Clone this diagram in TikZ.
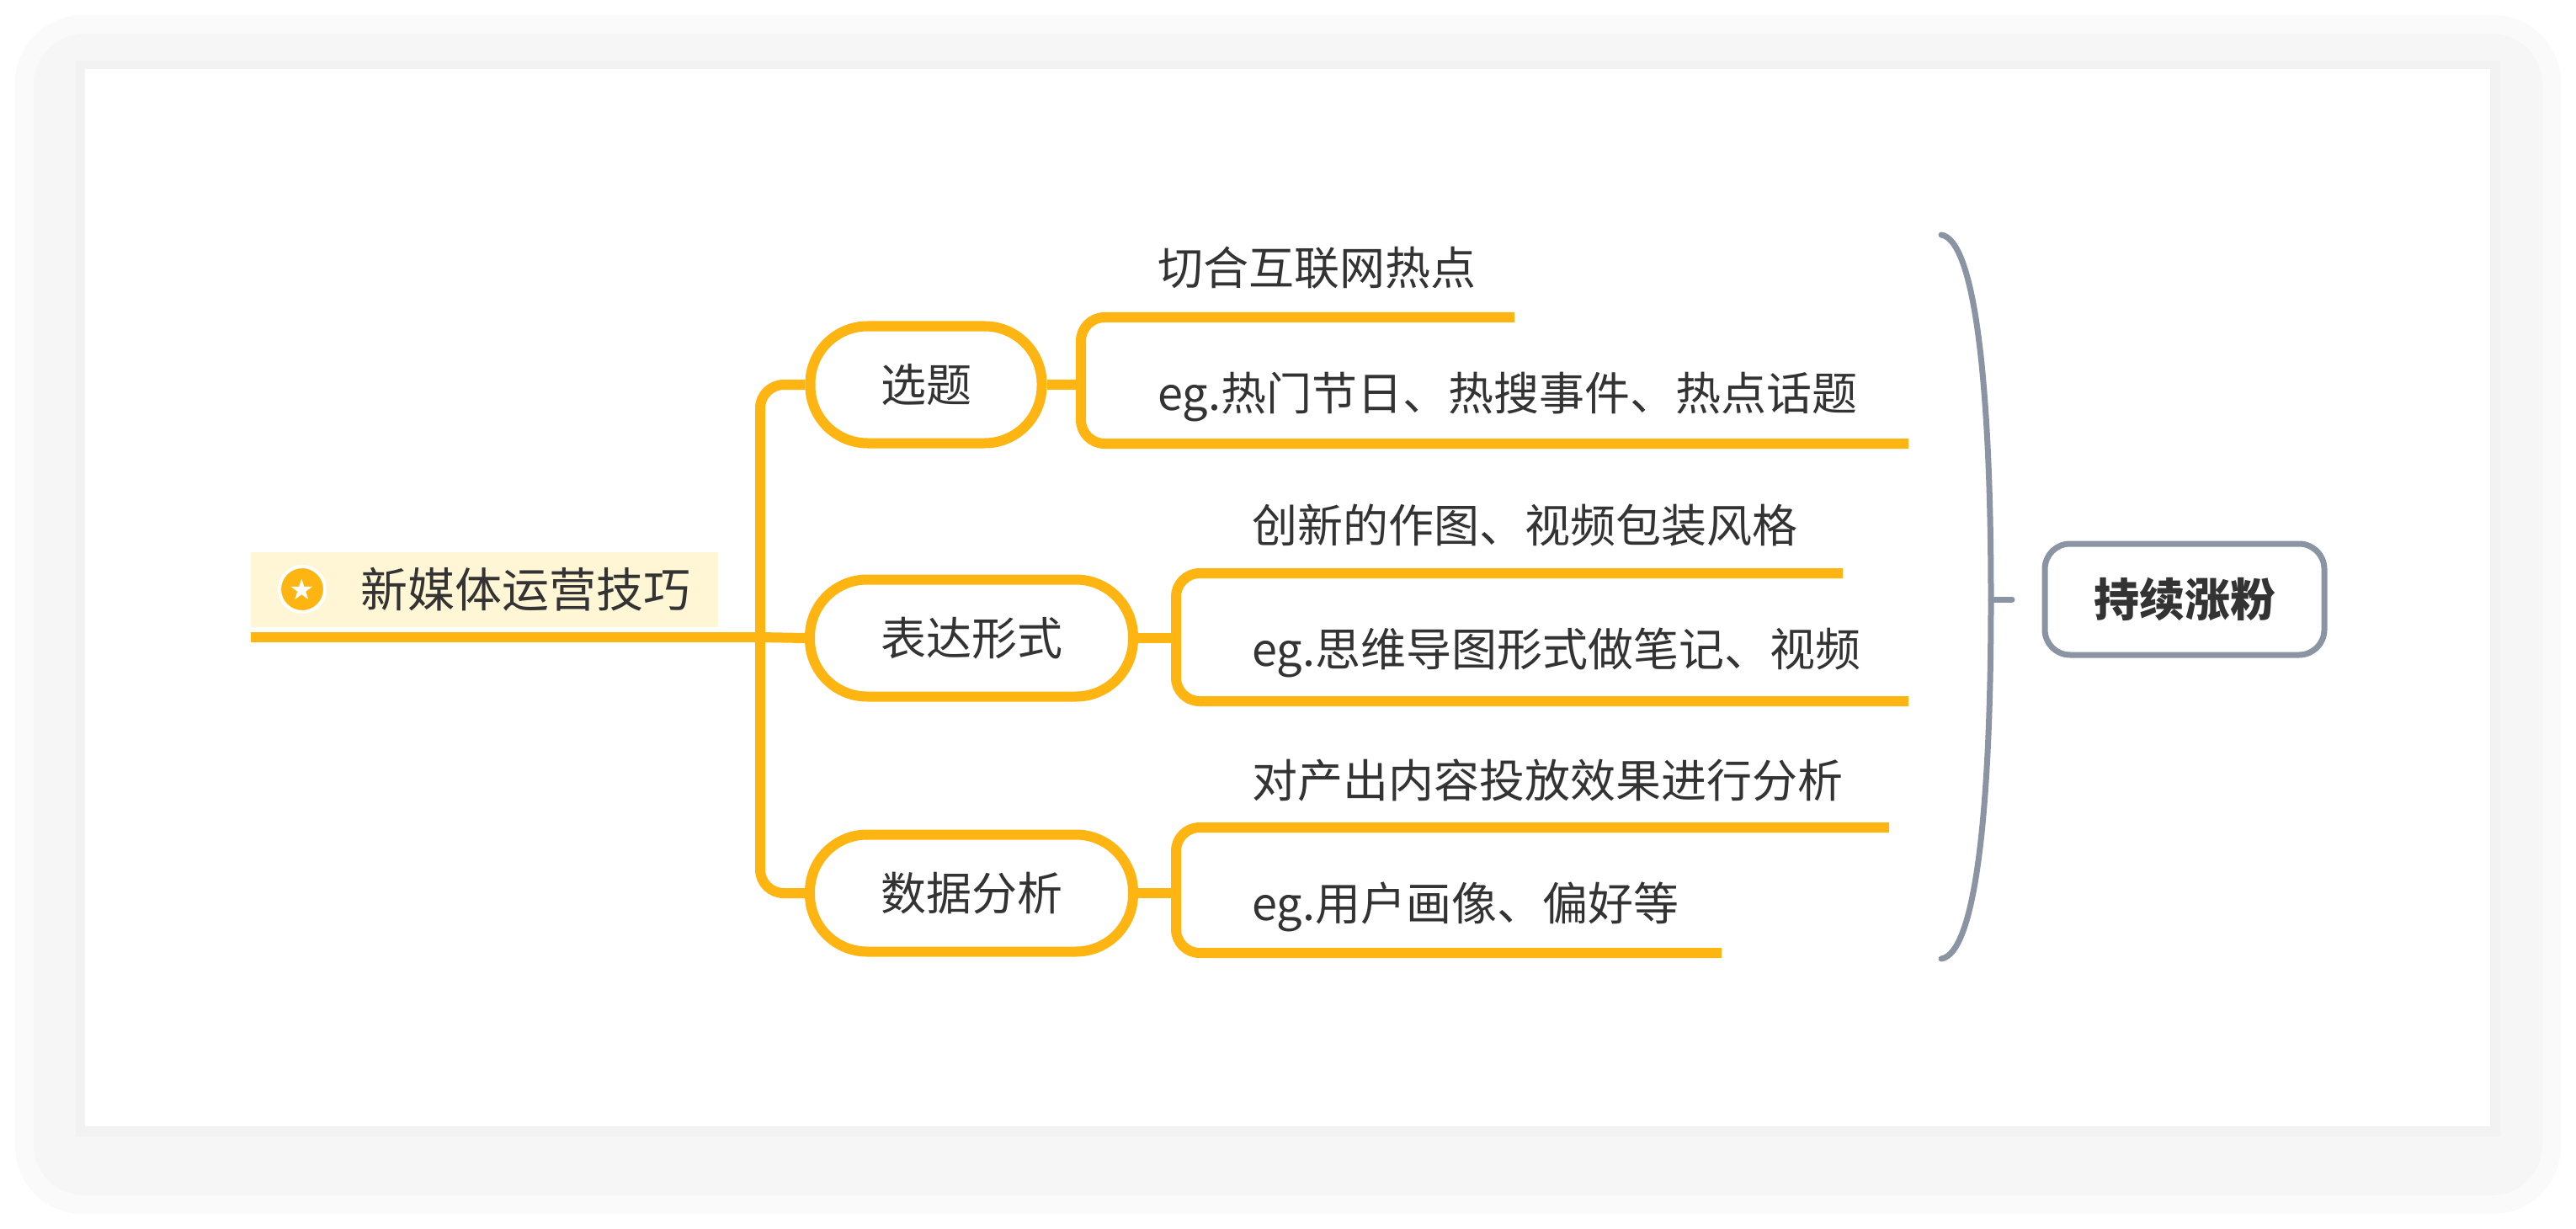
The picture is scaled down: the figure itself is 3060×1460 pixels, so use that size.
\documentclass[tikz,border=0pt]{standalone}
\usepackage{fontspec}
\setmainfont{Noto Sans CJK SC}
\newfontfamily\symfont{DejaVu Sans}
\definecolor{org}{HTML}{FFB511}
\definecolor{rootbg}{HTML}{FEF6D4}
\definecolor{txt}{HTML}{333333}
\definecolor{gry}{HTML}{8A94A3}
\begin{document}
\begin{tikzpicture}[x=0.5pt,y=-0.5pt,
  conn/.style={draw=org,line width=6pt,rounded corners=14pt},
  topic/.style={draw=org,line width=6pt,rounded corners=34pt,fill=white,text=txt,font=\fontsize{27}{30}\selectfont,minimum height=69.5pt,inner sep=0pt},
  leaf/.style={anchor=west,text=txt,font=\fontsize{27}{30}\selectfont,inner sep=0pt}]
\useasboundingbox (0,0) rectangle (3060,1460);
\fill[gray!4,rounded corners=40pt] (18,18) rectangle (3042,1442);
\fill[gray!7,rounded corners=30pt] (40,40) rectangle (3020,1420);
\fill[gray!10] (90,72) rectangle (2970,1350);
\fill[white] (101,82) rectangle (2958,1338);
% root
\fill[rootbg] (298,656) rectangle (853,745);
\node[circle,fill=org,draw=white,line width=2pt,minimum size=27pt,inner sep=0pt,text=white,font=\symfont\fontsize{17}{17}\selectfont] (star) at (359,700) {★};
\node[leaf,font=\fontsize{28}{30}\selectfont] (root) at (428,700) {新媒体运营技巧};
\coordinate (rs) at (298,757);
\coordinate (tr) at (903,757);
\draw[org,line width=6pt] (rs) -- (tr);
% topics
\node[topic,minimum width=137.5pt] (t1) at (1100,457) {选题};
\node[topic,minimum width=192pt] (t2) at (1154,758) {表达形式};
\node[topic,minimum width=192pt] (t3) at (1154,1061) {数据分析};
\draw[conn] (t1.west) -- (tr |- t1.west) -- (tr |- t3.west) -- (t3.west);
\draw[conn] (tr) -- (t2.west);
% leaves
\node[leaf] (a1) at (1375,318) {切合互联网热点};
\node[leaf] (a2) at (1375,472) {eg.热门节日、热搜事件、热点话题};
\node[leaf] (b1) at (1487,624) {创新的作图、视频包装风格};
\node[leaf] (b2) at (1487,775) {eg.思维导图形式做笔记、视频};
\node[leaf] (c1) at (1487,927) {对产出内容投放效果进行分析};
\node[leaf] (c2) at (1487,1077) {eg.用户画像、偏好等};
\coordinate (a1e) at (1799,377); \coordinate (a2e) at (2267,527);
\coordinate (b1e) at (2189,681); \coordinate (b2e) at (2267,833);
\coordinate (c1e) at (2244,983); \coordinate (c2e) at (2045,1132);
\coordinate (ja) at (1284,457); \coordinate (jb) at (1397,758); \coordinate (jc) at (1397,1061);
\draw[conn] (a1e) -- (ja |- a1e) -- (ja |- a2e) -- (a2e);
\draw[conn] (t1.east) -- (ja);
\draw[conn] (b1e) -- (jb |- b1e) -- (jb |- b2e) -- (b2e);
\draw[conn] (t2.east) -- (jb);
\draw[conn] (c1e) -- (jc |- c1e) -- (jc |- c2e) -- (c2e);
\draw[conn] (t3.east) -- (jc);
% brace and summary
\coordinate (bt) at (2306,279); \coordinate (bb) at (2306,1139); \coordinate (bm) at (2365,712);
\draw[gry,line width=3.5pt,line cap=round] (bt) .. controls (2345,285) and (2365,450) .. (bm) .. controls (2365,975) and (2345,1133) .. (bb);
\node[draw=gry,line width=3.5pt,rounded corners=15pt,minimum width=166pt,minimum height=66pt,text=txt,font=\bfseries\fontsize{27}{30}\selectfont] (sum) at (2595,712) {持续涨粉};
\draw[gry,line width=3.5pt,line cap=round] (bm) -- (2390,712);
\end{tikzpicture}
\end{document}
